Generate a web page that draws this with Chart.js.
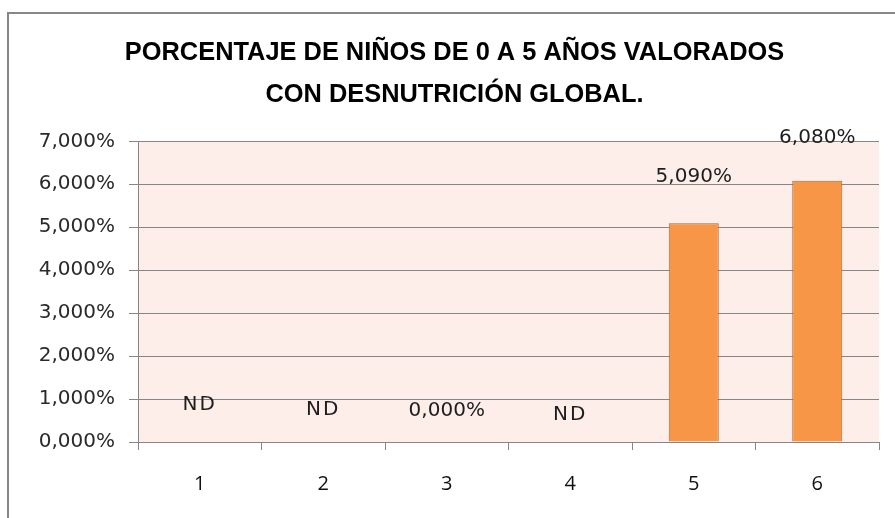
<!DOCTYPE html>
<html>
<head>
<meta charset="utf-8">
<script src="https://cdn.jsdelivr.net/npm/chart.js@4"></script>
<style>
  body { margin: 0; background: #fff; }
  #wrap { width: 895px; height: 518px; position: relative; }
</style>
</head>
<body>
<div id="wrap"><canvas id="chartNinos"></canvas></div>
<script>
const categories = ['1', '2', '3', '4', '5', '6'];
const percentValues = [null, null, 0, null, 5.09, 6.08];
const pointLabels = ['ND', 'ND', '0,000%', 'ND', '5,090%', '6,080%'];
const yTicks = [0, 1, 2, 3, 4, 5, 6, 7];
const titleLines = ['PORCENTAJE DE NIÑOS DE 0 A 5 AÑOS VALORADOS', 'CON DESNUTRICIÓN GLOBAL.'];

// how far above the value each label sits (Excel placed them by hand)
const labelLift = [37, 32, 31, 27, 47, 43];

function fmtPct(v) {
    return v.toFixed(3).replace('.', ',') + '%';
}

const framePlugin = {
    id: 'frame',
    afterLayout(chart) {
        // title in the original is centred on the whole frame, not the plot
        chart.titleBlock.left += 15;
        chart.titleBlock.right += 15;
    },
    beforeDraw(chart) {
        const ctx = chart.ctx;
        const a = chart.chartArea;
        ctx.save();
        ctx.fillStyle = '#fdeee9';
        ctx.fillRect(a.left, a.top, a.right - a.left, a.bottom - a.top);
        ctx.strokeStyle = '#878787';
        ctx.lineWidth = 2;
        ctx.strokeRect(8, 13, 920, 540);
        ctx.restore();
    }
};

const labelPlugin = {
    id: 'pointText',
    afterDatasetsDraw(chart) {
        const ctx = chart.ctx;
        const meta = chart.getDatasetMeta(0);
        const y = chart.scales.y;
        ctx.save();
        ctx.fillStyle = '#1e1e1e';
        ctx.font = '20px "DejaVu Sans", Verdana, sans-serif';
        ctx.textAlign = 'center';
        ctx.textBaseline = 'middle';
        pointLabels.forEach((txt, i) => {
            const x = meta.data[i].x;
            const v = percentValues[i] == null ? 0 : percentValues[i];
            ctx.letterSpacing = txt === 'ND' ? '2px' : '0px';
            ctx.fillText(txt, x, y.getPixelForValue(v) - labelLift[i]);
        });
        ctx.restore();
    }
};

const ctx_ninos = document.getElementById('chartNinos').getContext('2d');

const chart_ninos = new Chart(ctx_ninos, {
    type: 'bar',
    data: {
        labels: categories,
        datasets: [{
            data: percentValues,
            backgroundColor: '#f79646',
            borderColor: '#b4652c',
            borderWidth: 1,
            categoryPercentage: 1,
            barPercentage: 0.405
        }]
    },
    options: {
        responsive: true,
        maintainAspectRatio: false,
        animation: false,
        layout: { padding: { left: 0, right: 16, top: 0, bottom: 0 } },
        plugins: {
            legend: { display: false },
            tooltip: { enabled: false },
            title: {
                display: true,
                text: titleLines,
                color: '#000',
                font: { family: '"Liberation Sans", Arial, sans-serif', size: 25.4, weight: 'bold', lineHeight: 1.66 },
                padding: { top: 32, bottom: 25 }
            }
        },
        scales: {
            x: {
                grid: {
                    offset: true,
                    drawOnChartArea: false,
                    drawTicks: true,
                    tickLength: 8,
                    color: '#868686'
                },
                border: { color: '#868686' },
                ticks: {
                    color: '#111',
                    font: { family: '"Open Sans", sans-serif', size: 20 },
                    padding: 22
                },
                afterFit(scale) { scale.height = 76; }
            },
            y: {
                min: 0,
                max: 7,
                afterBuildTicks(scale) {
                    scale.ticks = yTicks.map(v => ({ value: v }));
                },
                grid: { color: '#868686', tickLength: 9 },
                border: { color: '#868686' },
                ticks: {
                    color: '#2a2a2a',
                    font: { family: '"DejaVu Sans", Verdana, sans-serif', size: 20 },
                    padding: 14,
                    callback: function (value) {
                        return fmtPct(value);
                    }
                },
                afterFit(scale) { scale.width = 138; }
            }
        }
    },
    plugins: [framePlugin, labelPlugin]
});
</script>
</body>
</html>
